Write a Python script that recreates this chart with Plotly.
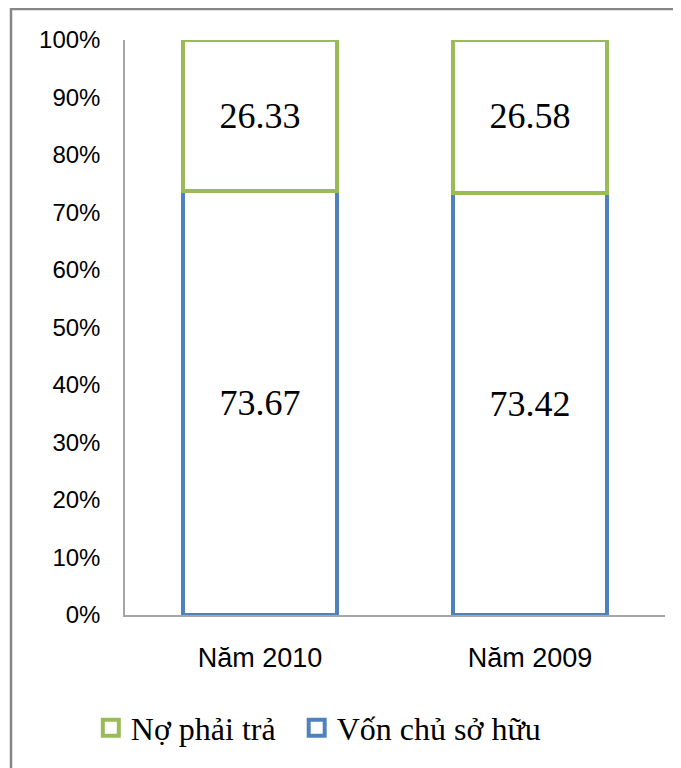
import plotly.graph_objects as go

categories = ["Năm 2010", "Năm 2009"]
von_chu_so_huu = [73.67, 73.42]
no_phai_tra = [26.33, 26.58]
y_ticks = [0, 10, 20, 30, 40, 50, 60, 70, 80, 90, 100]
y_tick_labels = [f"{v}%" for v in y_ticks]

BLUE = "#4F81BD"
GREEN = "#9BBB59"
SERIF = "Liberation Serif, Times New Roman, serif"
SANS = "Liberation Sans, Arial, sans-serif"

# page body has an 8px default margin, so figure coords = page coords - 8
L, T = 117, 32
PW, PH = 540, 575

fig = go.Figure()
fig.add_trace(go.Bar(
    x=categories, y=von_chu_so_huu, name="Vốn chủ sở hữu",
    marker=dict(color="white", line=dict(color=BLUE, width=4)),
    text=[f"{v:.2f}" for v in von_chu_so_huu], textposition="inside",
    insidetextanchor="middle", constraintext="none",
    textfont=dict(family=SERIF, size=36, color="black"),
    width=0.574, showlegend=False,
))
fig.add_trace(go.Bar(
    x=categories, y=no_phai_tra, name="Nợ phải trả",
    marker=dict(color="white", line=dict(color=GREEN, width=4)),
    text=[f"{v:.2f}" for v in no_phai_tra], textposition="inside",
    insidetextanchor="middle", constraintext="none",
    textfont=dict(family=SERIF, size=36, color="black"),
    width=0.574, showlegend=False,
))
# legend entries (square outlined markers like the reference)
for name, col in [("Nợ phải trả" + "\u00a0" * 2, GREEN), ("Vốn chủ sở hữu", BLUE)]:
    fig.add_trace(go.Scatter(
        x=[None], y=[None], mode="markers", name=name,
        marker=dict(symbol="square", size=16, color="white",
                    line=dict(color=col, width=4)),
    ))

fig.update_layout(
    width=681, height=768,
    barmode="stack",
    paper_bgcolor="white", plot_bgcolor="white",
    margin=dict(l=L, r=681 - L - PW, t=T, b=768 - T - PH),
    showlegend=True,
    legend=dict(orientation="h", traceorder="normal", x=0.358, xanchor="center",
                y=-(720 - 32 - 575) / 575, yanchor="middle",
                font=dict(family=SERIF, size=32, color="black"),
                itemwidth=30, tracegroupgap=0),
    xaxis=dict(showline=True, linecolor="#A6A6A6", linewidth=1.5, ticks="",
               tickfont=dict(family=SANS, size=27, color="black"),
               ticklabelstandoff=18, showgrid=False),
    yaxis=dict(range=[0, 100], tickvals=y_ticks, ticktext=y_tick_labels,
               showline=True, linecolor="#A6A6A6", linewidth=1.5, ticks="",
               tickfont=dict(family=SANS, size=24, color="black"),
               ticklabelstandoff=18, showgrid=False, zeroline=False),
    shapes=[dict(type="rect", xref="paper", yref="paper",
                 x0=(3 - L) / PW, x1=1.3, y0=-0.5, y1=(T + PH - 1) / PH,
                 line=dict(color="#868686", width=2.5), layer="below")],
)

fig.write_html("out.html")
